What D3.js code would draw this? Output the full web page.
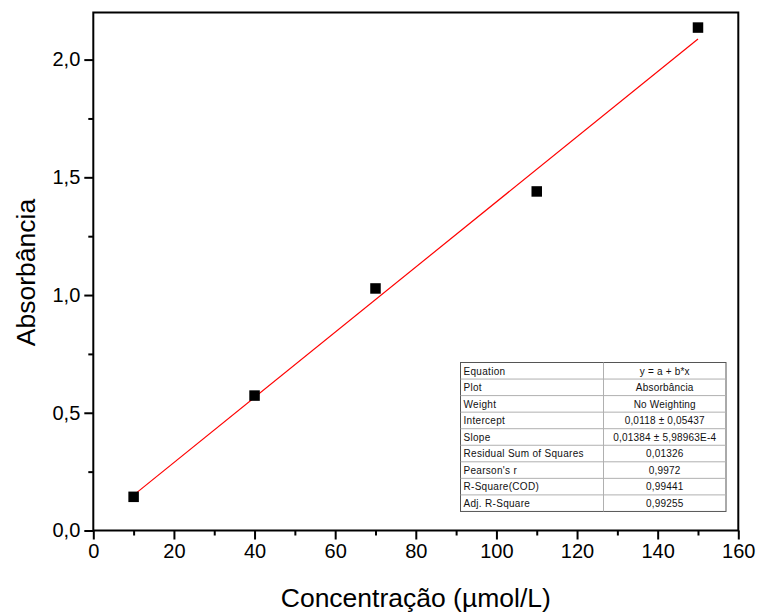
<!DOCTYPE html>
<html><head><meta charset="utf-8">
<script src="https://cdn.jsdelivr.net/npm/d3@7"></script>
<style>
html,body{margin:0;padding:0;background:#fff;}
svg{display:block;font-family:"Liberation Sans",Arial,sans-serif;}
</style></head>
<body><svg id="c" width="758" height="614"></svg>
<script>
const concentracao = [10, 40, 70, 110, 150];
const absorbancia = [0.143, 0.573, 1.028, 1.44, 2.136];
const intercept = 0.0118;
const slope = 0.01384;
const xTicks = [0, 20, 40, 60, 80, 100, 120, 140, 160];
const yTicks = [0, 0.5, 1.0, 1.5, 2.0];
const tableLabels = ["Equation","Plot","Weight","Intercept","Slope","Residual Sum of Squares","Pearson's r","R-Square(COD)","Adj. R-Square"];
const tableValues = ["y = a + b*x","Absorbância","No Weighting","0,0118 ± 0,05437","0,01384 ± 5,98963E-4","0,01326","0,9972","0,99441","0,99255"];

const svg = d3.select("#c");
const L = 93.3, R = 738.3, T = 12.5, B = 530.5;
const x = d3.scaleLinear().domain([0,160]).range([L,R]);
const y = d3.scaleLinear().domain([0,2.2]).range([B,T]);
const fmt = d => d3.format(".1f")(d).replace(".", ",");

// frame
svg.append("rect").attr("x",L).attr("y",T).attr("width",R-L).attr("height",B-T)
  .attr("fill","none").attr("stroke","#000").attr("stroke-width",2);

// x axis
const xMinor = d3.range(10,160,20);
const gx = svg.append("g").attr("transform",`translate(0,${B})`);
gx.call(d3.axisBottom(x).tickValues(xTicks).tickFormat(d3.format("d")).tickSize(9).tickPadding(4));
gx.append("g").call(d3.axisBottom(x).tickValues(xMinor).tickFormat("").tickSize(5));
gx.selectAll(".domain").remove();
gx.selectAll("line").attr("stroke","#000").attr("stroke-width",2);
gx.selectAll("text").attr("font-size",20).attr("fill","#000").attr("font-family","Liberation Sans, Arial, sans-serif");

// y axis
const yMinor = [0.25,0.75,1.25,1.75];
const gy = svg.append("g").attr("transform",`translate(${L},0)`);
gy.call(d3.axisLeft(y).tickValues(yTicks).tickFormat(fmt).tickSize(9).tickPadding(4));
gy.append("g").call(d3.axisLeft(y).tickValues(yMinor).tickFormat("").tickSize(5));
gy.selectAll(".domain").remove();
gy.selectAll("line").attr("stroke","#000").attr("stroke-width",2);
gy.selectAll("text").attr("font-size",20).attr("fill","#000").attr("font-family","Liberation Sans, Arial, sans-serif");

// axis titles
svg.append("text").attr("x",(L+R)/2).attr("y",607).attr("text-anchor","middle")
  .attr("font-size",26.5).text("Concentração (µmol/L)");
svg.append("text").attr("transform",`translate(35,${(T+B)/2+1}) rotate(-90)`).attr("text-anchor","middle")
  .attr("font-size",26.5).text("Absorbância");

// fit line
const x0 = d3.min(concentracao), x1 = d3.max(concentracao);
svg.append("line").attr("x1",x(x0)).attr("y1",y(intercept+slope*x0))
  .attr("x2",x(x1)).attr("y2",y(intercept+slope*x1))
  .attr("stroke","#ff0000").attr("stroke-width",1.2);

// points
const s = 10.5;
svg.selectAll("rect.pt").data(concentracao).enter().append("rect").attr("class","pt")
  .attr("x",(d)=>x(d)-s/2).attr("y",(d,i)=>y(absorbancia[i])-s/2)
  .attr("width",s).attr("height",s).attr("fill","#000");

// table
const tx = 460.5, tw = 265.5, split = 603.5, ty = 362.5, rh = 16.55;
const tg = svg.append("g");
tg.append("rect").attr("x",tx).attr("y",ty).attr("width",tw).attr("height",rh*tableLabels.length)
  .attr("fill","#fff").attr("stroke","#555").attr("stroke-width",1);
for(let i=1;i<tableLabels.length;i++){
  tg.append("line").attr("x1",tx).attr("x2",tx+tw).attr("y1",ty+i*rh).attr("y2",ty+i*rh)
    .attr("stroke","#b0b0b0").attr("stroke-width",1);
}
tg.append("line").attr("x1",split).attr("x2",split).attr("y1",ty).attr("y2",ty+rh*tableLabels.length)
  .attr("stroke","#b0b0b0").attr("stroke-width",1);
tableLabels.forEach((t,i)=>{
  tg.append("text").attr("x",tx+3).attr("y",ty+i*rh+rh/2+3.8).attr("font-size",10)
    .attr("letter-spacing",0.3).attr("fill","#111").text(t);
  tg.append("text").attr("x",(split+tx+tw)/2).attr("y",ty+i*rh+rh/2+3.8).attr("font-size",10)
    .attr("text-anchor","middle").attr("letter-spacing",0.2).attr("fill","#111").text(tableValues[i]);
});
</script></body></html>
